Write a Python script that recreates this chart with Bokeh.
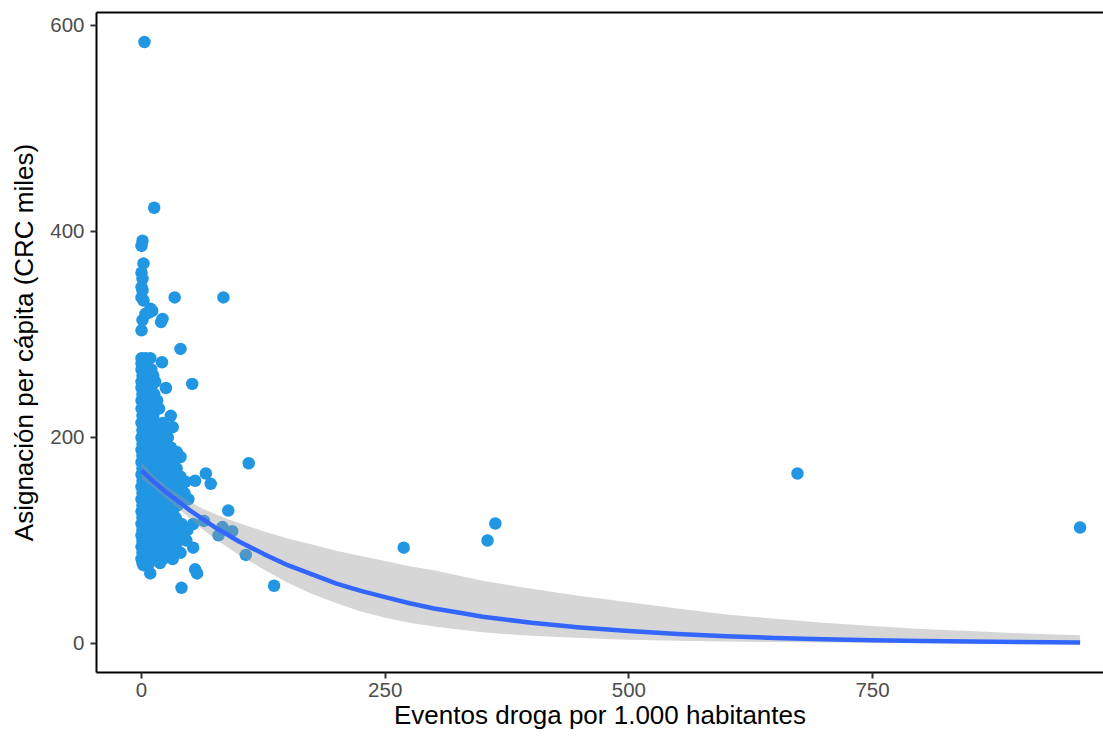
from bokeh.plotting import figure
from bokeh.models import LinearAxis, Range1d, FixedTicker, ColumnDataSource
from bokeh.embed import file_html
from bokeh.resources import INLINE

# Drug events per 1,000 inhabitants vs. per-capita allocation (CRC thousands)
eventos = [
    3, 13, 1, 0, 2, 0, 1, 0, 1, 0, 2, 9, 11, 4, 1, 20, 21.5, 7, 0, 34, 84, 40,
    0, 4, 9,
    0, 3, 21,
    0, 5, 10,
    1, 6, 12,
    0, 4, 9, 14, 52,
    0, 5, 10, 25,
    1, 6, 13,
    0, 4, 9, 16,
    12,
    0, 5, 10, 18,
    1, 6, 12, 30,
    0, 4, 9, 15, 22,
    32,
    1, 6, 11, 22,
    0, 4, 9, 14, 20, 27,
    1, 6, 11, 17, 24, 30,
    0, 4, 9, 14, 20, 27, 36, 30,
    1, 6, 11, 17, 23, 30, 38, 40,
    0, 4, 9, 14, 20, 26, 33, 110,
    1, 6, 11, 17, 23, 30, 36,
    0, 4, 9, 14, 20, 26, 33, 40, 66,
    1, 6, 11, 17, 23, 30, 37, 45, 55, 71,
    0, 4, 9, 14, 20, 26, 32, 40,
    1, 6, 11, 17, 23, 29, 36, 44,
    0, 4, 9, 14, 20, 26, 33, 40, 48,
    1, 6, 11, 17, 23, 30, 37,
    0, 4, 9, 14, 20, 26, 32, 89,
    1, 6, 11, 17, 23, 29, 35,
    64,
    0, 4, 9, 14, 20, 26, 33, 41, 53,
    83,
    1, 6, 11, 17, 23, 30, 37, 47, 93,
    0, 4, 9, 14, 20, 26, 33, 43, 79,
    1, 6, 11, 17, 23, 30, 38, 46,
    0, 4, 9, 14, 20, 27, 35, 53,
    1, 6, 11, 17, 24, 30, 40,
    0, 5, 10, 16, 22, 32,
    1, 8, 19,
    2, 9,
    57, 55, 41, 136, 107, 269, 355, 363, 673, 963,
]
asignacion = [
    584, 423, 391, 386, 369, 360, 354, 346, 343, 336, 333, 325, 323, 320, 314, 312, 315, 321, 304, 336, 336, 286,
    277, 277, 277,
    272, 272, 273,
    266, 266, 266,
    260, 260, 260,
    254, 254, 254, 254, 252,
    248, 248, 248, 248,
    242, 242, 242,
    236, 236, 236, 236,
    233,
    228, 228, 228, 228,
    221, 221, 221, 221,
    214, 214, 214, 214, 214,
    210,
    207, 207, 207, 207,
    200, 200, 200, 200, 200, 200,
    194, 194, 194, 194, 194, 190,
    188, 188, 188, 188, 188, 188, 186, 190,
    182, 182, 182, 182, 182, 182, 182, 181,
    176, 176, 176, 176, 176, 176, 176, 175,
    170, 170, 170, 170, 170, 170, 170,
    164, 164, 164, 164, 164, 164, 164, 162, 165,
    158, 158, 158, 158, 158, 158, 158, 157, 158, 155,
    152, 152, 152, 152, 152, 152, 152, 152,
    146, 146, 146, 146, 146, 146, 146, 146,
    140, 140, 140, 140, 140, 140, 140, 140, 140,
    134, 134, 134, 134, 134, 134, 134,
    128, 128, 128, 128, 128, 128, 128, 129,
    122, 122, 122, 122, 122, 122, 122,
    119,
    116, 116, 116, 116, 116, 116, 116, 116, 116,
    113,
    110, 110, 110, 110, 110, 110, 110, 110, 109,
    105, 105, 105, 105, 105, 105, 105, 105, 105,
    100, 100, 100, 100, 100, 100, 100, 100,
    94, 94, 94, 94, 94, 94, 94, 93,
    88, 88, 88, 88, 88, 88, 88,
    82, 82, 82, 82, 82, 82,
    78, 78, 78,
    76, 68,
    68, 72, 54, 56, 86, 93, 100, 116.5, 165, 112.6,
]

# Fitted trend with its confidence band
ajuste_x = [0, 12.5, 25, 37.5, 50, 62.5, 75, 87.5, 100, 125, 150, 175, 200,
            225, 250, 275, 300, 325, 350, 375, 400, 450, 500, 550, 600, 650,
            700, 750, 800, 850, 900, 963]
ajuste_y = [168, 157, 147, 138, 129, 121, 113, 106, 99, 87, 76, 67, 58,
            51, 45, 39, 34, 30, 26, 23, 20, 15.5, 12, 9.2, 7, 5.4,
            4.1, 3.2, 2.4, 1.9, 1.4, 1.0]
ajuste_sup = [176, 163, 153, 145, 137, 131, 126, 121, 117, 109, 102, 96, 90,
              85, 80, 75, 71, 66, 61, 57, 53, 46, 40, 34, 28, 24,
              20, 17, 14, 12, 10, 8]
ajuste_inf = [160, 151, 141, 131, 121, 111, 102, 94, 86, 72, 59, 48, 39,
              31, 25, 20, 16.5, 13.5, 11, 9, 7.5, 5.3, 3.7, 2.6, 1.8, 1.3,
              0.9, 0.6, 0.4, 0.3, 0.2, 0.1]

x_ticks = [0, 250, 500, 750]
y_ticks = [0, 200, 400, 600]

FONT = "Liberation Sans"

p = figure(width=1103, height=736, output_backend="svg", toolbar_location=None,
           x_range=Range1d(-46.2, 987.0), y_range=Range1d(-28.2, 612.6),
           min_border_left=96, min_border_right=0, min_border_top=12,
           min_border_bottom=64)
p.outline_line_color = None
p.background_fill_color = "white"
p.border_fill_color = "white"
p.xgrid.visible = False
p.ygrid.visible = False

puntos = ColumnDataSource(dict(x=eventos, y=asignacion))
p.scatter("x", "y", source=puntos, size=12.5, fill_color="#2196E3",
          line_color=None)

banda = ColumnDataSource(dict(x=ajuste_x, lo=ajuste_inf, hi=ajuste_sup))
p.varea(x="x", y1="lo", y2="hi", source=banda, fill_color="#999999",
        fill_alpha=0.4)
p.line(ajuste_x, ajuste_y, line_color="#3366FF", line_width=4.5,
       line_join="round")

for ax, ticks in ((p.xaxis[0], x_ticks), (p.yaxis[0], y_ticks)):
    ax.ticker = FixedTicker(ticks=ticks)
    ax.minor_tick_line_color = None
    ax.axis_line_color = "black"
    ax.axis_line_width = 2
    ax.major_tick_line_color = "#333333"
    ax.major_tick_line_width = 2
    ax.major_tick_out = 6
    ax.major_tick_in = 0
    ax.major_label_text_font = FONT
    ax.major_label_text_font_size = "20.5px"
    ax.major_label_text_color = "#4D4D4D"
    ax.axis_label_text_font = FONT
    ax.axis_label_text_font_size = "26px"
    ax.axis_label_text_font_style = "normal"
    ax.axis_label_text_color = "black"

p.xaxis.major_label_standoff = 4
p.xaxis.axis_label_standoff = 0
p.yaxis.major_label_standoff = 6
p.yaxis.axis_label_standoff = 8

p.xaxis.axis_label = "Eventos droga por 1.000 habitantes"
p.yaxis.axis_label = "Asignación per cápita (CRC miles)"

# Top border of the panel
borde = LinearAxis(ticker=FixedTicker(ticks=[]), axis_line_color="black",
                   axis_line_width=2, major_tick_line_color=None,
                   minor_tick_line_color=None, major_label_text_font_size="0px")
p.add_layout(borde, "above")

open("out.html", "w").write(file_html(p, INLINE))
